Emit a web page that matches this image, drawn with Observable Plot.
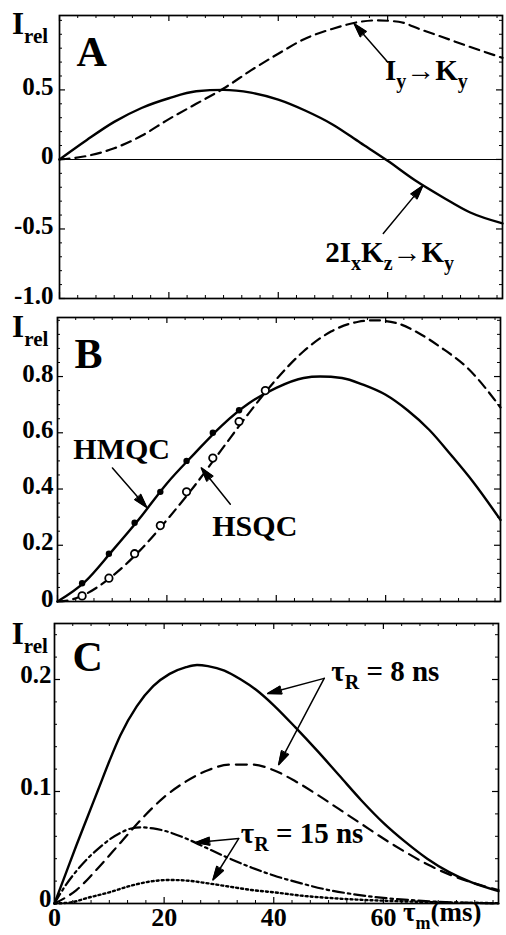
<!DOCTYPE html>
<html><head><meta charset="utf-8">
<script src="https://cdn.jsdelivr.net/npm/d3@7"></script>
<script src="https://cdn.jsdelivr.net/npm/@observablehq/plot@0.6"></script>
<style>
body{margin:0;background:#fff;}
#wrap{position:relative;width:506px;height:935px;background:#fff;overflow:hidden;}
#wrap svg{position:absolute;left:0;overflow:visible;background:transparent;}
</style></head><body><div id="wrap"></div>
<script>
// ---------- DATA ----------
// Panel A: transfer amplitudes vs mixing time (ms)
const aSolidX = [0, 5, 10, 15, 20, 25, 30, 35, 40, 45, 50, 55, 60, 65, 70, 75, 81];
const aSolidY = [0, 0.14, 0.27, 0.37, 0.44, 0.49, 0.50, 0.48, 0.43, 0.35, 0.25, 0.12, -0.01, -0.15, -0.27, -0.38, -0.46]; // 2IxKz -> Ky
const aDashX = [0, 5, 10, 15, 20, 25, 30, 35, 40, 45, 50, 55, 58, 62, 66, 70, 75, 81];
const aDashY = [0, 0.025, 0.08, 0.17, 0.29, 0.40, 0.51, 0.64, 0.76, 0.87, 0.94, 0.99, 1.0, 0.99, 0.935, 0.88, 0.81, 0.73]; // Iy -> Ky
const aYTicks = [0.5, 0, -0.5, -1.0];
const aYLabels = ["0.5", "0", "-0.5", "-1.0"];
const aYMinor = [-0.9, -0.8, -0.7, -0.6, -0.4, -0.3, -0.2, -0.1, 0.1, 0.2, 0.3, 0.4, 0.6, 0.7, 0.8, 0.9, 1.0];

// Panel B: HMQC (solid, filled dots) and HSQC (dashed, open circles)
const bHmqcX = [0, 5, 10, 15, 20, 25, 30, 35, 40, 45, 48, 52, 56, 60, 64, 68, 72, 76, 81];
const bHmqcY = [0, 0.07, 0.18, 0.295, 0.42, 0.525, 0.625, 0.705, 0.76, 0.795, 0.80, 0.795, 0.77, 0.735, 0.68, 0.61, 0.52, 0.425, 0.29];
const bHsqcX = [0, 2, 5, 10, 15, 20, 25, 30, 35, 40, 45, 50, 55, 58, 62, 66, 70, 75, 81];
const bHsqcY = [0, 0.004, 0.025, 0.09, 0.18, 0.29, 0.41, 0.54, 0.67, 0.79, 0.89, 0.96, 0.995, 1.0, 0.99, 0.955, 0.905, 0.83, 0.69];
const bPtX = [4.5, 9.4, 14.1, 18.8, 23.6, 28.4, 33.2, 38.0];
const bHmqcPtY = [0.065, 0.17, 0.28, 0.39, 0.50, 0.60, 0.68, 0.75];
const bHsqcPtY = [0.02, 0.083, 0.17, 0.27, 0.39, 0.51, 0.64, 0.75];
const bYTicks = [0.8, 0.6, 0.4, 0.2, 0];
const bYLabels = ["0.8", "0.6", "0.4", "0.2", "0"];
const bYMinor = [0.05, 0.1, 0.15, 0.25, 0.3, 0.35, 0.45, 0.5, 0.55, 0.65, 0.7, 0.75, 0.85, 0.9, 0.95, 1.0];

// Panel C: tauR = 8 ns (solid, dashed), tauR = 15 ns (dash-dot, dotted)
const c8aX = [0, 2, 4, 6, 8, 10, 12, 15, 18, 21, 24, 26, 28, 31, 34, 37, 40, 44, 48, 52, 56, 60, 64, 68, 72, 76, 81];
const c8aY = [0, 0.026, 0.052, 0.077, 0.102, 0.127, 0.150, 0.176, 0.194, 0.205, 0.211, 0.213, 0.212, 0.208, 0.200, 0.190, 0.177, 0.157, 0.136, 0.114, 0.092, 0.072, 0.055, 0.040, 0.028, 0.019, 0.011];
const c8bX = [0, 4, 8, 12, 16, 20, 24, 28, 32, 36, 40, 44, 48, 52, 56, 60, 64, 68, 72, 76, 81];
const c8bY = [0, 0.012, 0.032, 0.054, 0.076, 0.095, 0.109, 0.119, 0.124, 0.124, 0.119, 0.109, 0.097, 0.084, 0.071, 0.058, 0.046, 0.035, 0.026, 0.019, 0.012];
const c15aX = [0, 2, 4, 6, 8, 10, 12, 14, 16, 18, 20, 24, 28, 32, 36, 40, 45, 50, 55, 60, 65, 70, 75, 81];
const c15aY = [0, 0.016, 0.029, 0.040, 0.049, 0.057, 0.063, 0.067, 0.068, 0.067, 0.065, 0.058, 0.049, 0.040, 0.032, 0.025, 0.018, 0.012, 0.008, 0.005, 0.003, 0.0015, 0.0008, 0];
const c15bX = [0, 3, 6, 10, 14, 18, 21, 24, 28, 32, 36, 40, 45, 50, 55, 60, 65, 70, 75, 81];
const c15bY = [0, 0.001, 0.005, 0.010, 0.016, 0.020, 0.021, 0.0205, 0.018, 0.015, 0.012, 0.010, 0.007, 0.005, 0.0035, 0.0025, 0.0017, 0.001, 0.0006, 0.0003];
const cYTicks = [0.2, 0.1, 0];
const cYLabels = ["0.2", "0.1", "0"];
const cYMinor = [0.02, 0.04, 0.06, 0.08, 0.12, 0.14, 0.16, 0.18, 0.22, 0.24];

// shared x ticks (ms)
const xTicks = [0, 20, 40, 60];
const xLabels = ["0", "20", "40", "60"];
const xMinor = [3.33, 6.67, 10, 13.33, 16.67, 23.33, 26.67, 30, 33.33, 36.67, 43.33, 46.67, 50, 53.33, 56.67, 63.33, 66.67, 70, 73.33, 76.67, 80];

// ---------- RENDERING ----------
const FONT = "'Liberation Serif','Times New Roman',serif";
const X_DOMAIN = [0, 81];
const pts = (xs, ys) => xs.map((x, i) => ({x, y: ys[i]}));
const CURVE = "monotone-x";
const LW = 2.4;

function tickMarks(w, h) {
  const maj = 6, mn = 3;
  return [
    Plot.ruleX(xTicks, {insetTop: h - maj, strokeWidth: 1.2}),
    Plot.ruleX(xTicks, {insetBottom: h - maj, strokeWidth: 1.2}),
    Plot.ruleX(xMinor, {insetTop: h - mn}),
    Plot.ruleX(xMinor, {insetBottom: h - mn})
  ];
}
function yTickMarks(w, maj, min) {
  return [
    Plot.ruleY(maj, {insetRight: w - 6, strokeWidth: 1.2}),
    Plot.ruleY(maj, {insetLeft: w - 6, strokeWidth: 1.2}),
    Plot.ruleY(min, {insetRight: w - 3}),
    Plot.ruleY(min, {insetLeft: w - 3})
  ];
}
function yLabels(ticks, labels, pad, dy) {
  return Plot.axisY(ticks, {anchor: "left", tickSize: 0, tickPadding: pad, label: null,
    tickFormat: d => labels[ticks.indexOf(d)], fontSize: 25, fontWeight: "bold", fontFamily: FONT, dy});
}
function txt(items, size) {
  return Plot.text(items, {x: "x", y: "y", text: "t", textAnchor: "start", lineAnchor: "bottom",
    fontSize: size, fontWeight: "bold", fontFamily: FONT});
}
function arrows(items) {
  return Plot.arrow(items, {x1: "x1", y1: "y1", x2: "x2", y2: "y2", headLength: 14, headAngle: 32, strokeWidth: 1.5});
}
// subscripts: text written as I{rel} -> I with subscript "rel"
function applySubs(svg) {
  d3.select(svg).selectAll("text").each(function() {
    const t = this.textContent;
    if (!t.includes("{")) return;
    const fs = parseFloat(this.getAttribute("font-size") || getComputedStyle(this).fontSize) || 24;
    const sub = Math.round(fs * 0.68), dy = Math.round(fs * 0.28);
    const parts = t.split(/(\{[^}]*\})/).filter(s => s.length);
    const sel = d3.select(this);
    sel.text(null);
    let down = false;
    for (const p of parts) {
      if (p.startsWith("{")) {
        sel.append("tspan").attr("dy", down ? 0 : dy).attr("font-size", sub).text(p.slice(1, -1));
        down = true;
      } else {
        sel.append("tspan").attr("dy", down ? -dy : 0).text(p);
        down = false;
      }
    }
  });
}
// filled arrowheads (as in the printed figure)
function fillHeads(svg) {
  d3.select(svg).selectAll("g[aria-label='arrow'] path").each(function() {
    const n = (this.getAttribute("d").match(/-?\d*\.?\d+(?:e-?\d+)?/g) || []).map(Number);
    if (n.length < 10) return;
    const k = n.slice(-6);
    d3.select(this.parentNode).append("path")
      .attr("d", `M${k[0]},${k[1]}L${k[2]},${k[3]}L${k[4]},${k[5]}Z`)
      .attr("fill", "black").attr("stroke", "black").attr("stroke-width", 1);
  });
}
function mount(plot, top) {
  plot.style.top = top + "px";
  document.getElementById("wrap").appendChild(plot);
  applySubs(plot);
  fillHeads(plot);
}
const style = {fontFamily: FONT, overflow: "visible", background: "transparent", color: "black"};

// ----- Panel A -----
{
  const mt = 15, mb = 2, ml = 59, mr = 4, H = 300;
  const w = 506 - ml - mr, h = H - mt - mb;
  const p = Plot.plot({
    width: 506, height: H, marginTop: mt, marginBottom: mb, marginLeft: ml, marginRight: mr, style,
    x: {domain: X_DOMAIN, axis: null}, y: {domain: [-1.0, 1.035], axis: null},
    marks: [
      Plot.ruleY([0], {strokeWidth: 1.1}),
      Plot.line(pts(aSolidX, aSolidY), {x: "x", y: "y", curve: CURVE, strokeWidth: LW}),
      Plot.line(pts(aDashX, aDashY), {x: "x", y: "y", curve: CURVE, strokeWidth: 2.2, strokeDasharray: "10,6"}),
      ...tickMarks(w, h), ...yTickMarks(w, aYTicks, aYMinor),
      Plot.frame({strokeWidth: 1.7}),
      yLabels(aYTicks, aYLabels, 6, -3),
      txt([{x: 3.1, y: 0.67, t: "A"}], 42),
      txt([{x: -8.7, y: 0.9, t: "I{rel}"}], 31),
      txt([{x: 59.5, y: 0.568, t: "I{y}→K{y}"}, {x: 48.6, y: -0.741, t: "2I{x}K{z}→K{y}"}], 29),
      arrows([{x1: 60, y1: 0.70, x2: 53.9, y2: 0.975}, {x1: 59.2, y1: -0.532, x2: 66.4, y2: -0.19}])
    ]
  });
  mount(p, 0);
}
// ----- Panel B -----
{
  const mt = 17, mb = 2, ml = 57, mr = 6, H = 303;
  const w = 506 - ml - mr, h = H - mt - mb;
  const p = Plot.plot({
    width: 506, height: H, marginTop: mt, marginBottom: mb, marginLeft: ml, marginRight: mr, style,
    x: {domain: X_DOMAIN, axis: null}, y: {domain: [0, 1.01], axis: null},
    marks: [
      Plot.line(pts(bHmqcX, bHmqcY), {x: "x", y: "y", curve: CURVE, strokeWidth: LW}),
      Plot.line(pts(bHsqcX, bHsqcY), {x: "x", y: "y", curve: CURVE, strokeWidth: 2.2, strokeDasharray: "10,6"}),
      Plot.dot(pts(bPtX, bHmqcPtY), {x: "x", y: "y", r: 3.2, fill: "black"}),
      Plot.dot(pts(bPtX, bHsqcPtY), {x: "x", y: "y", r: 3.7, fill: "white", stroke: "black", strokeWidth: 1.8}),
      ...tickMarks(w, h), ...yTickMarks(w, bYTicks, bYMinor),
      Plot.frame({strokeWidth: 1.7}),
      yLabels(bYTicks, bYLabels, 4, -3),
      txt([{x: 3.1, y: 0.829, t: "B"}], 42),
      txt([{x: -8.3, y: 0.94, t: "I{rel}"}], 31),
      txt([{x: 2.9, y: 0.507, t: "HMQC"}, {x: 28.3, y: 0.232, t: "HSQC"}], 30),
      arrows([{x1: 10.05, y1: 0.475, x2: 16.3, y2: 0.335}, {x1: 31.6, y1: 0.346, x2: 26.3, y2: 0.475}])
    ]
  });
  mount(p, 300);
}
// ----- Panel C -----
{
  const mt = 20, mb = 32, ml = 54, mr = 8, H = 332;
  const w = 506 - ml - mr, h = H - mt - mb;
  const p = Plot.plot({
    width: 506, height: H, marginTop: mt, marginBottom: mb, marginLeft: ml, marginRight: mr, style,
    x: {domain: X_DOMAIN, axis: null}, y: {domain: [0, 0.25], axis: null},
    marks: [
      Plot.line(pts(c8aX, c8aY), {x: "x", y: "y", curve: CURVE, strokeWidth: LW}),
      Plot.line(pts(c8bX, c8bY), {x: "x", y: "y", curve: CURVE, strokeWidth: 2.2, strokeDasharray: "11,7"}),
      Plot.line(pts(c15aX, c15aY), {x: "x", y: "y", curve: CURVE, strokeWidth: 2.2, strokeDasharray: "11,4,2.5,4"}),
      Plot.line(pts(c15bX, c15bY), {x: "x", y: "y", curve: CURVE, strokeWidth: 2.4, strokeDasharray: "2,3"}),
      ...tickMarks(w, h), ...yTickMarks(w, cYTicks, cYMinor),
      Plot.frame({strokeWidth: 1.7}),
      yLabels(cYTicks, cYLabels, 3, -5),
      Plot.axisX(xTicks, {anchor: "bottom", tickSize: 0, tickPadding: 4, label: null,
        tickFormat: d => xLabels[xTicks.indexOf(d)], fontSize: 26, fontWeight: "bold", fontFamily: FONT}),
      txt([{x: 3.3, y: 0.208, t: "C"}], 42),
      txt([{x: -7.8, y: 0.232, t: "I{rel}"}], 31),
      txt([{x: 50.5, y: 0.199, t: "τ{R} = 8 ns"}, {x: 34, y: 0.054, t: "τ{R} = 15 ns"}], 29),
      txt([{x: 63.6, y: -0.0155, t: "τ{m}(ms)"}], 27),
      arrows([
        {x1: 49.2, y1: 0.201, x2: 38.9, y2: 0.1875},
        {x1: 49.2, y1: 0.201, x2: 40.9, y2: 0.124},
        {x1: 33.6, y1: 0.058, x2: 25.8, y2: 0.0545},
        {x1: 33.6, y1: 0.058, x2: 28.9, y2: 0.021}
      ])
    ]
  });
  mount(p, 603);
}
</script></body></html>
